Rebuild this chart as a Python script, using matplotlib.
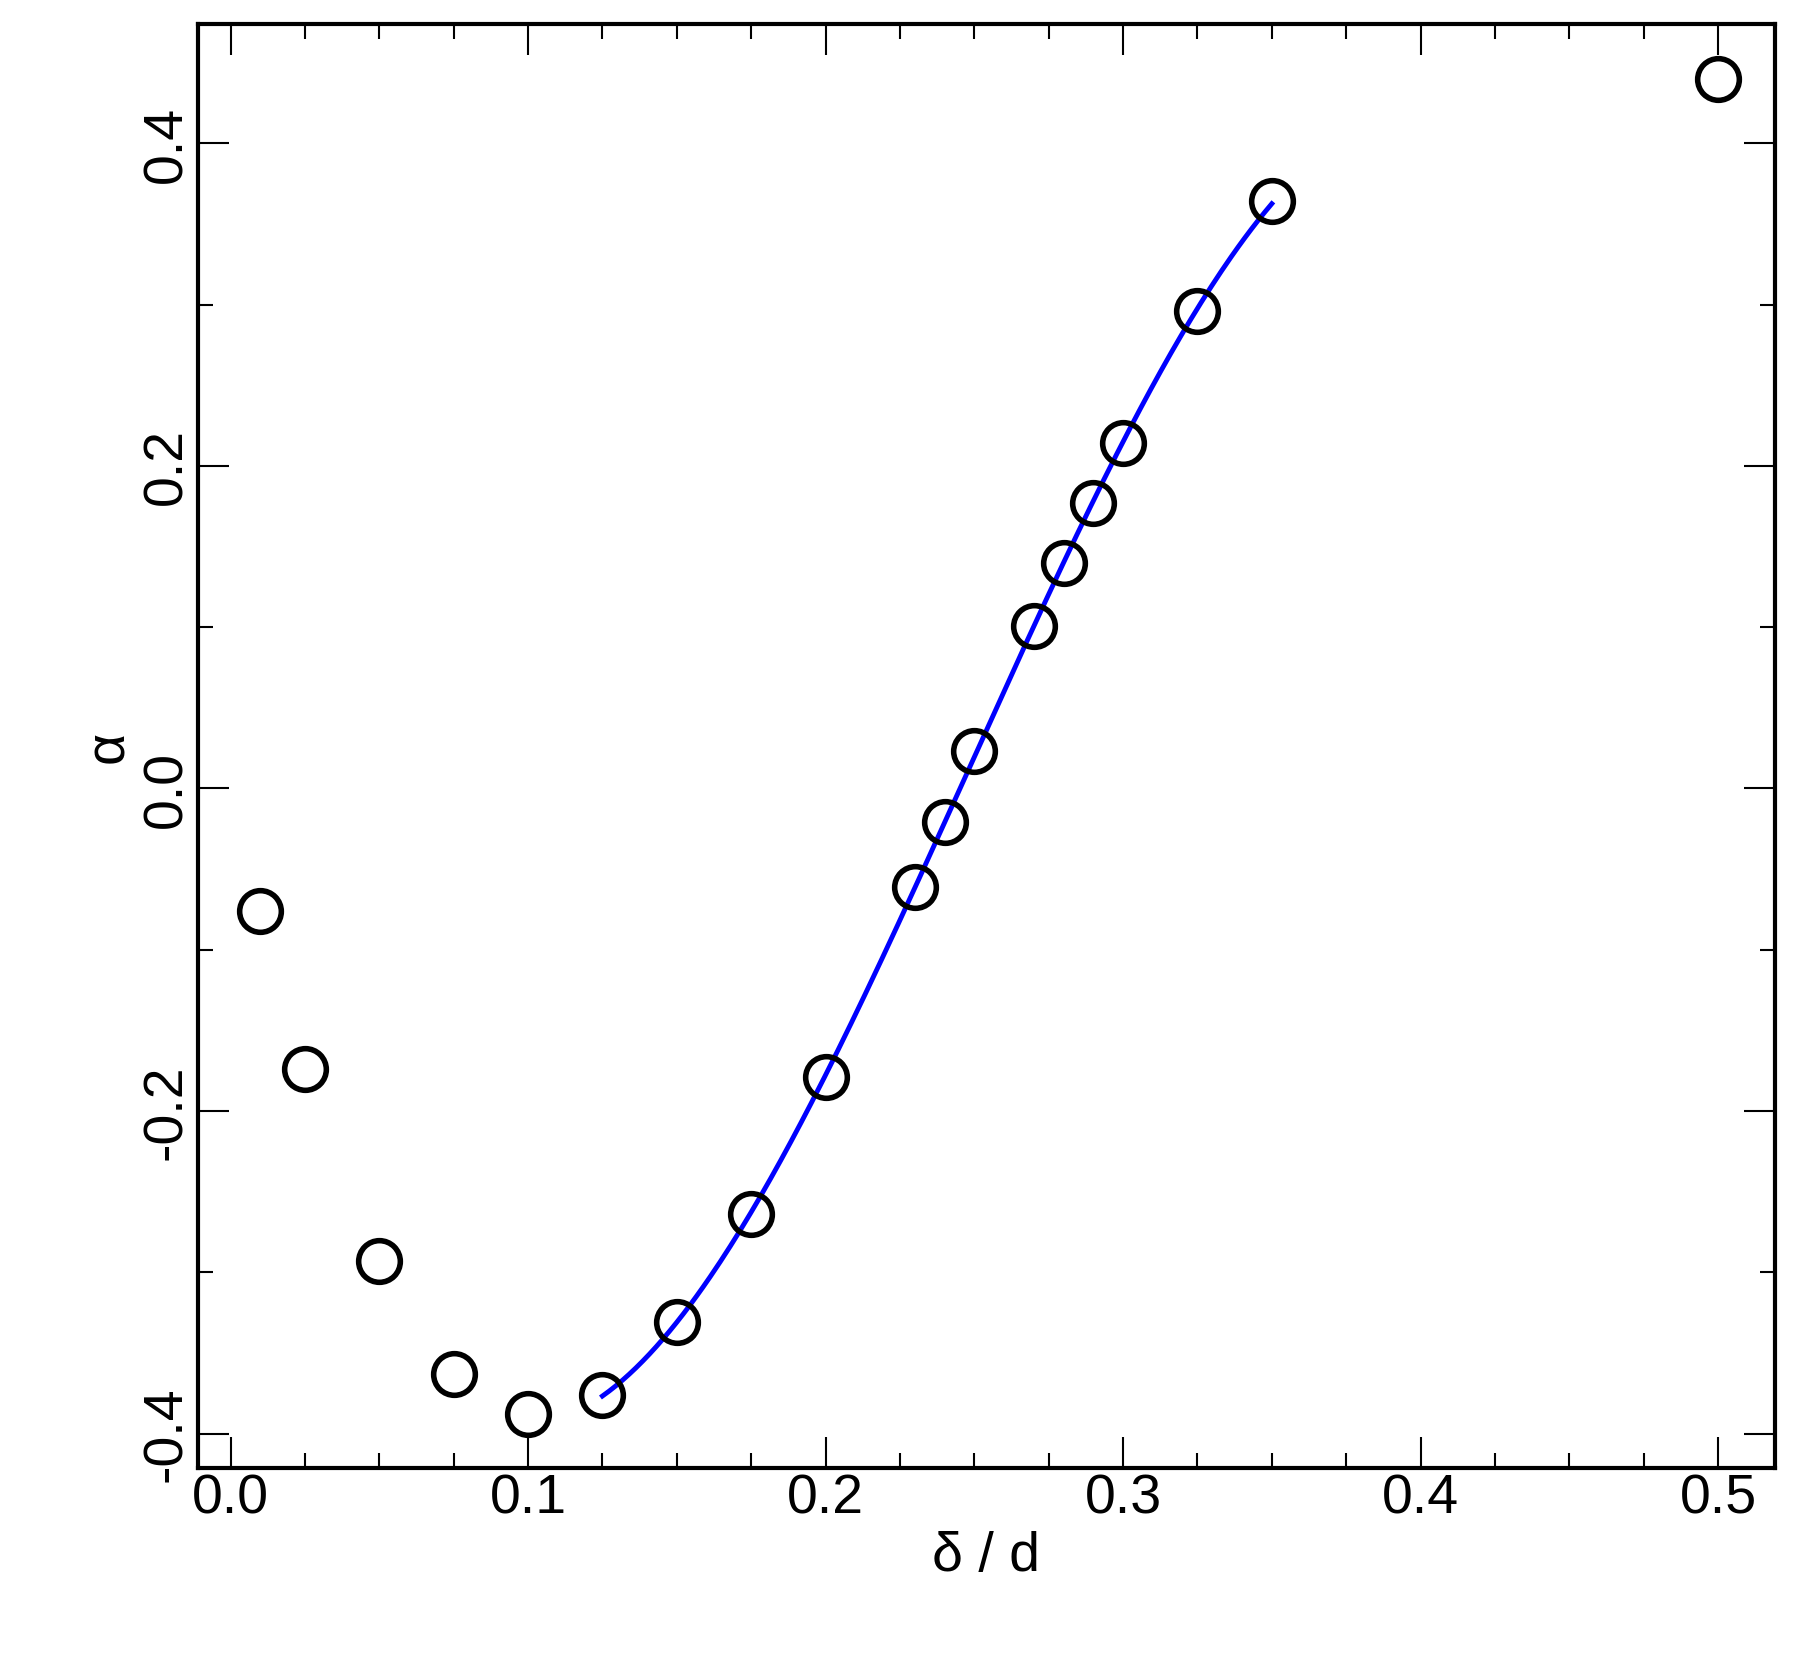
import matplotlib
matplotlib.use("Agg")
import matplotlib.pyplot as plt
import numpy as np
from matplotlib.ticker import MultipleLocator

plt.rcParams['font.family'] = ['Liberation Sans', 'DejaVu Sans']

# data
delta_d = [0.01, 0.025, 0.05, 0.075, 0.1, 0.125, 0.15, 0.175, 0.2, 0.23,
           0.24, 0.25, 0.27, 0.28, 0.29, 0.30, 0.325, 0.35, 0.5]
alpha = [-0.076, -0.174, -0.293, -0.363, -0.388, -0.376, -0.331, -0.264, -0.179, -0.061,
         -0.021, 0.023, 0.101, 0.140, 0.177, 0.214, 0.296, 0.364, 0.44]

# fitted curve over 0.125..0.35
fit_x = np.array(delta_d[5:18])
fit_y = np.array(alpha[5:18])
coef = np.polyfit(fit_x, fit_y, 3)
xs = np.linspace(fit_x[0], fit_x[-1], 200)

fig = plt.figure(figsize=(17.98, 16.65), dpi=100)
ax = fig.add_axes([0.110, 0.118, 0.877, 0.867])

ax.plot(xs, np.polyval(coef, xs), color='#0000ff', lw=3.5, zorder=2)
ax.plot(delta_d, alpha, 'o', ms=30, mfc='none', mec='black', mew=4, zorder=3)

ax.set_xlim(-0.011, 0.519)
ax.set_ylim(-0.421, 0.474)
ax.xaxis.set_major_locator(MultipleLocator(0.1))
ax.xaxis.set_minor_locator(MultipleLocator(0.025))
ax.yaxis.set_major_locator(MultipleLocator(0.2))
ax.yaxis.set_minor_locator(MultipleLocator(0.1))
ax.tick_params(which='both', direction='in', top=True, right=True, labelsize=40, width=1.5)
ax.tick_params(which='major', length=22)
ax.tick_params(which='minor', length=11)
ax.xaxis.set_major_formatter(matplotlib.ticker.FormatStrFormatter('%.1f'))
ax.yaxis.set_major_formatter(matplotlib.ticker.FormatStrFormatter('%.1f'))
for lab in ax.get_yticklabels():
    lab.set_rotation(90)
    lab.set_va('center')
for s in ax.spines.values():
    s.set_linewidth(3)

ax.set_xlabel('δ / d', fontsize=40)
ax.set_ylabel('α', fontsize=40)

plt.savefig('out.png', dpi=100)
